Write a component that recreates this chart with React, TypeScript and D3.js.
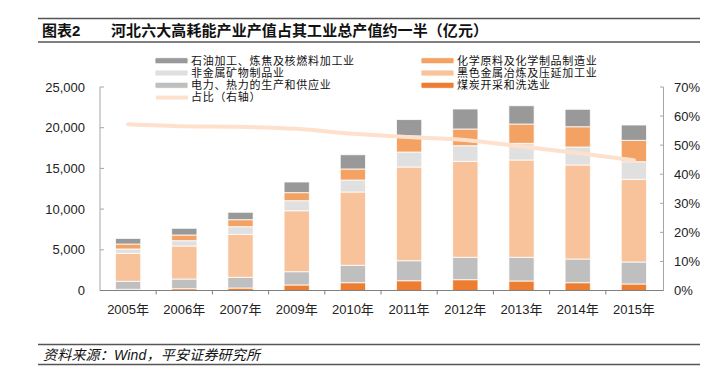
import React from 'react'
import * as d3 from 'd3'

const years = ['2005年', '2006年', '2007年', '2009年', '2010年', '2011年', '2012年', '2013年', '2014年', '2015年']

// stacked from bottom up
const coal = [150, 220, 300, 680, 960, 1200, 1330, 1170, 960, 800]
const power = [980, 1190, 1320, 1630, 2140, 2460, 2750, 2910, 2910, 2700]
const ferrous = [3440, 4060, 5280, 7490, 9000, 11510, 11790, 11950, 11550, 10160]
const nonmetal = [530, 650, 940, 1230, 1470, 1840, 1920, 2050, 2210, 2160]
const chemical = [610, 700, 860, 990, 1360, 1970, 2050, 2370, 2490, 2630]
const petroleum = [690, 820, 910, 1310, 1750, 2020, 2460, 2250, 2140, 1880]

const ratio = [57.2, 56.5, 56.3, 55.6, 53.9, 52.8, 51.8, 49.5, 47.3, 44.8]

const leftTicks = [0, 5000, 10000, 15000, 20000, 25000]
const rightTicks = [0, 10, 20, 30, 40, 50, 60, 70]

const seriesNames = ['煤炭开采和洗选业', '电力、热力的生产和供应业', '黑色金属冶炼及压延加工业', '非金属矿物制品业', '化学原料及化学制品制造业', '石油加工、炼焦及核燃料加工业']
const seriesData = [coal, power, ferrous, nonmetal, chemical, petroleum]
const seriesColors = ['#ED7D31', '#BFBFBF', '#F8C29A', '#E0E0E0', '#F4A263', '#999999']
const lineName = '占比（右轴）'
const lineColor = '#FDE1CD'

const font = '"Liberation Sans", Arial, "Noto Sans CJK SC", sans-serif'

function App() {
    const W = 722
    const H = 373
    const plotLeft = 100
    const plotRight = 662
    const yTop = 87
    const yBottom = 290.5

    const x = d3.scaleBand<string>().domain(years).range([plotLeft, plotRight]).paddingInner(0.55).paddingOuter(0.275)
    const xOuter = d3.scaleBand<string>().domain(years).range([plotLeft, plotRight])
    const yL = d3.scaleLinear().domain([0, 25000]).range([yBottom, yTop])
    const yR = d3.scaleLinear().domain([0, 70]).range([yBottom, yTop])

    const rows = years.map((yr, i) => {
        const r: any = { year: yr }
        seriesNames.forEach((n, k) => { r[n] = seriesData[k][i] })
        return r
    })
    const stacked = d3.stack<any>().keys(seriesNames)(rows)

    const line = d3.line<number>()
        .x((_, i) => (xOuter(years[i]) as number) + xOuter.bandwidth() / 2)
        .y(d => yR(d))
        .curve(d3.curveMonotoneX)

    // legend layout: left column, right column
    const legendLeft = [5, 3, 1]
    const legendRight = [4, 2, 0]
    const rowY = (r: number) => 60.7 + r * 12.3
    const legendText = { fontSize: 11, letterSpacing: 0.7, fill: '#111' }

    return (
        <svg width={W} height={H} style={{ position: 'absolute', left: 0, top: 0, background: '#fff' }} fontFamily={font}>
            {/* title */}
            <line x1={38} x2={700} y1={18.5} y2={18.5} stroke="#555" strokeWidth={1.5} />
            <line x1={38} x2={700} y1={42} y2={42} stroke="#555" strokeWidth={1.5} />
            <text x={42} y={36} fontSize={15} fontWeight="bold" fill="#111">图表2</text>
            <text x={111} y={36} fontSize={15} fontWeight="bold" fill="#111" textLength={377} lengthAdjust="spacing">河北六大高耗能产业产值占其工业总产值约一半（亿元）</text>

            {/* legend */}
            {legendLeft.map((k, r) => (
                <g key={'ll' + k}>
                    <rect x={155} y={rowY(r) - 3} width={33} height={6} rx={1.5} fill={seriesColors[k]} stroke="#fff" strokeWidth={0.8} />
                    <text x={191} y={rowY(r)} dy="0.35em" {...legendText}>{seriesNames[k]}</text>
                </g>
            ))}
            <g>
                <line x1={156} x2={188} y1={rowY(3)} y2={rowY(3)} stroke={lineColor} strokeWidth={4} />
                <text x={191} y={rowY(3)} dy="0.35em" {...legendText}>{lineName}</text>
            </g>
            {legendRight.map((k, r) => (
                <g key={'lr' + k}>
                    <rect x={421} y={rowY(r) - 3} width={33} height={6} rx={1.5} fill={seriesColors[k]} stroke="#fff" strokeWidth={0.8} />
                    <text x={457} y={rowY(r)} dy="0.35em" {...legendText}>{seriesNames[k]}</text>
                </g>
            ))}

            {/* left axis */}
            <line x1={plotLeft} x2={plotLeft} y1={yTop} y2={yBottom} stroke="#A6A6A6" strokeWidth={1} />
            {leftTicks.map(t => (
                <g key={'lt' + t}>
                    <line x1={plotLeft} x2={plotLeft + 4} y1={yL(t)} y2={yL(t)} stroke="#A6A6A6" />
                    <text x={85} y={yL(t)} dy="0.35em" textAnchor="end" fontSize={13} fill="#222">{d3.format(',')(t)}</text>
                </g>
            ))}

            {/* right axis */}
            <line x1={663.5} x2={663.5} y1={yTop} y2={yBottom} stroke="#A6A6A6" strokeWidth={1} />
            {rightTicks.map(t => (
                <g key={'rt' + t}>
                    <line x1={660} x2={663.5} y1={yR(t)} y2={yR(t)} stroke="#A6A6A6" />
                    <text x={674} y={yR(t)} dy="0.35em" fontSize={13} fill="#222">{t + '%'}</text>
                </g>
            ))}

            {/* bars */}
            {stacked.map((s, k) => (
                <g key={'s' + k} fill={seriesColors[k]}>
                    {s.map((d, i) => (
                        <rect key={i}
                            x={x(years[i])}
                            width={x.bandwidth()}
                            y={yL(d[1])}
                            height={yL(d[0]) - yL(d[1])}
                            stroke="#fff"
                            strokeOpacity={0.8}
                            strokeWidth={1}
                        />
                    ))}
                </g>
            ))}

            {/* bottom axis */}
            <line x1={plotLeft} x2={663.5} y1={yBottom} y2={yBottom} stroke="#808080" strokeWidth={1} />
            {years.map((yr, i) => (
                <g key={'xt' + yr}>
                    {i > 0 && <line x1={xOuter(yr)} x2={xOuter(yr)} y1={yBottom} y2={yBottom + 4} stroke="#808080" />}
                    <text x={(xOuter(yr) as number) + xOuter.bandwidth() / 2} y={309} dy="0.35em" textAnchor="middle" fontSize={13} fill="#222">{yr}</text>
                </g>
            ))}

            {/* ratio line */}
            <path d={line(ratio) as string} fill="none" stroke={lineColor} strokeWidth={4} strokeLinecap="round" />

            {/* source */}
            <line x1={38} x2={700} y1={344.5} y2={344.5} stroke="#555" strokeWidth={1.5} />
            <line x1={38} x2={700} y1={364.5} y2={364.5} stroke="#555" strokeWidth={1.5} />
            <text x={43} y={355} dy="0.35em" fontSize={14} fontStyle="italic" fill="#111" textLength={217} lengthAdjust="spacing">资料来源：Wind，平安证券研究所</text>
        </svg>
    )
}

export default App
